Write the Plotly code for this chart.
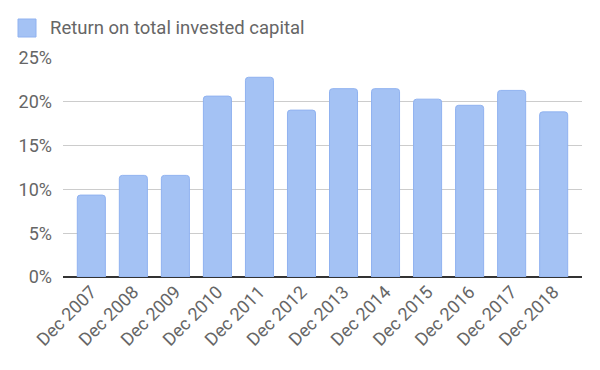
import plotly.graph_objects as go

categories = ["Dec 2007", "Dec 2008", "Dec 2009", "Dec 2010", "Dec 2011", "Dec 2012",
              "Dec 2013", "Dec 2014", "Dec 2015", "Dec 2016", "Dec 2017", "Dec 2018"]
values = [9.35, 11.6, 11.6, 20.65, 22.8, 19.05, 21.5, 21.5, 20.3, 19.6, 21.3, 18.85]
series_name = "Return on total invested capital"
y_ticks = [0, 5, 10, 15, 20, 25]
y_tick_labels = ["0%", "5%", "10%", "15%", "20%", "25%"]

fig = go.Figure()
fig.add_trace(go.Bar(
    x=categories, y=values, name=series_name,
    marker=dict(color="#a4c2f4", line=dict(color="#90b2f0", width=1), cornerradius=3),
    showlegend=False,
))

fig.update_layout(
    width=600, height=370,
    margin=dict(l=63, r=18, t=58, b=93),
    paper_bgcolor="white", plot_bgcolor="white",
    bargap=0.333,
    font=dict(family="Roboto", color="#666666"),
    xaxis=dict(type="category", range=[-0.674, 11.674], tickangle=-45,
               tickfont=dict(size=18, color="#666666"), showgrid=False,
               ticks="", showline=False, automargin=False),
    yaxis=dict(range=[0, 25], tickvals=y_ticks, ticktext=y_tick_labels,
               tickfont=dict(size=18, color="#666666"), showgrid=True,
               gridcolor="#cccccc", gridwidth=1, zeroline=True, zerolinecolor="#333333",
               zerolinewidth=1.5, ticks="", ticklabelstandoff=10, automargin=False),
    shapes=[dict(type="rect", xref="paper", yref="paper", xsizemode="pixel", ysizemode="pixel",
                 xanchor=0, yanchor=1, x0=-45, x1=-27, y0=21, y1=39,
                 fillcolor="#a4c2f4", line=dict(color="#90b2f0", width=1))],
    annotations=[dict(text=series_name, xref="paper", yref="paper", x=0, y=1,
                      xshift=-15, yshift=30, xanchor="left", yanchor="middle",
                      showarrow=False, font=dict(size=18.5, color="#666666", family="Roboto"))],
)

fig.write_html("out.html", config={"displayModeBar": False},
               post_script="document.body.style.margin='0';document.body.style.overflow='hidden';")
